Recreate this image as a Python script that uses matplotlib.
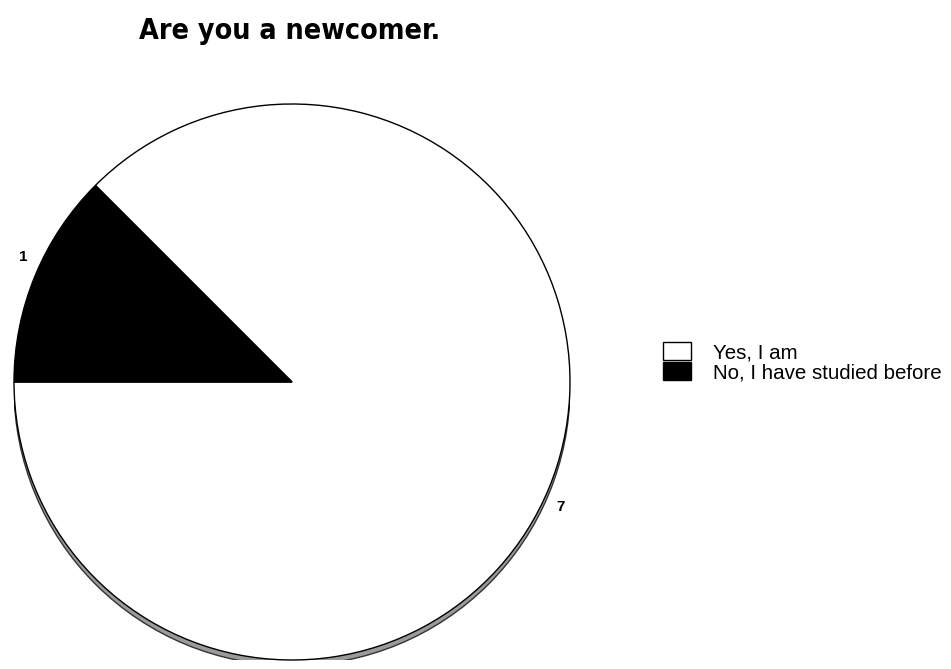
#!/usr/bin/env python3
"""Pie chart: Are you a newcomer."""
import numpy as np
import matplotlib
matplotlib.use("Agg")
import matplotlib.pyplot as plt
from matplotlib.patches import Circle

labels = ["Yes, I am", "No, I have studied before"]
counts = [7, 1]
colors = ["white", "black"]

plt.rcParams["font.family"] = ["Liberation Sans", "DejaVu Sans"]

fig = plt.figure(figsize=(9.51, 6.69), dpi=100)
W, H = 951, 669
cx, cy, r = 292, 382, 278
ax = fig.add_axes([(cx - r) / W, (H - cy - r) / H, 2 * r / W, 2 * r / H])

# thin grey "depth" band under the pie
ax.add_patch(Circle((0, -0.02), 1.0, facecolor="#9a9a9a",
                    edgecolor="#333333", linewidth=1.0, zorder=0))

wedges, texts = ax.pie(counts, colors=colors, startangle=180,
                       counterclock=True, labels=[str(c) for c in counts],
                       labeldistance=1.065,
                       wedgeprops=dict(edgecolor="black", linewidth=1.0),
                       textprops=dict(fontsize=11, fontweight="bold"))
for w in wedges:
    w.set_zorder(1)
# labels sit a little clockwise of the wedge middle in the original
for w, t in zip(wedges, texts):
    ang = np.deg2rad((w.theta1 + w.theta2) / 2 - 2.5)
    t.set_position((1.065 * np.cos(ang), 1.065 * np.sin(ang)))
    t.set_ha("center")
    t.set_va("center")
ax.set_xlim(-1, 1)
ax.set_ylim(-1, 1)
ax.set_aspect("equal")
ax.axis("off")

fig.text(290 / W, 1 - 31 / H, "Are you a newcomer.", ha="center", va="center",
         fontsize=20.5, fontweight="heavy", fontstretch="condensed",
         family=["DejaVu Sans"])

fig.legend(wedges, labels, loc="center left",
           bbox_to_anchor=(644 / W, 1 - 362 / H), frameon=False,
           fontsize=14.8, handlelength=1.4, handleheight=1.0,
           labelspacing=0.0, handletextpad=1.05)

fig.savefig("out.png", dpi=100)
